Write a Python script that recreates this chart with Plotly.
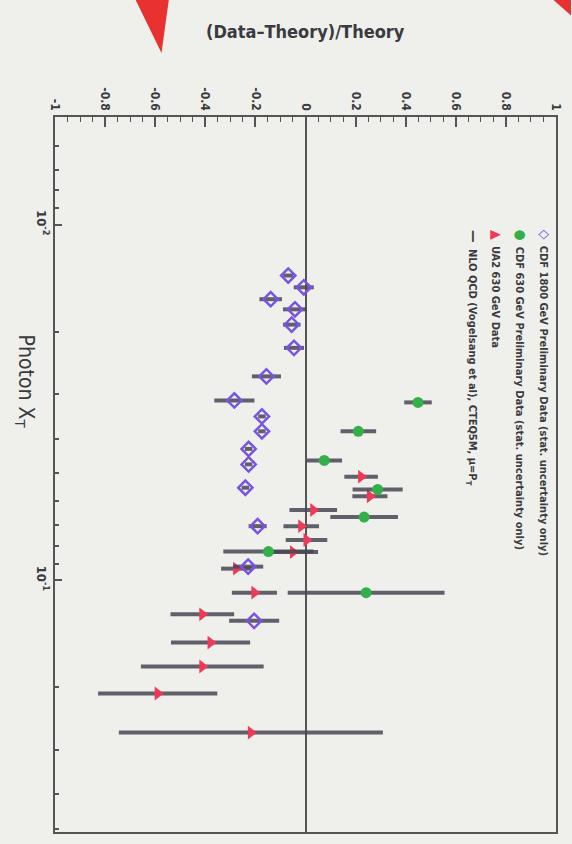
import numpy as np
import plotly.graph_objects as go

# ---------------- data ----------------
# CDF 1800 GeV (open diamonds)
cdf1800_xt = [0.0139, 0.0150, 0.0162, 0.0173, 0.0191, 0.0222, 0.0267, 0.0312,
              0.0346, 0.0381, 0.0427, 0.0472, 0.0549, 0.0704, 0.0915, 0.130]
cdf1800_r = [-0.069, -0.007, -0.139, -0.042, -0.055, -0.046, -0.156, -0.284,
             -0.174, -0.174, -0.227, -0.227, -0.240, -0.191, -0.229, -0.205]
cdf1800_e = [0.02, 0.04, 0.045, 0.048, 0.035, 0.04, 0.058, 0.08,
             0.015, 0.015, 0.015, 0.015, 0.015, 0.036, 0.06, 0.10]

# CDF 630 GeV (filled circles)
cdf630_xt = [0.0316, 0.0381, 0.0460, 0.0555, 0.0664, 0.0830, 0.1083]
cdf630_r = [0.449, 0.211, 0.075, 0.288, 0.234, -0.148, 0.242]
cdf630_e = [0.055, 0.071, 0.071, 0.10, 0.135, 0.18, 0.313]

# UA2 630 GeV (triangles)
ua2_xt = [0.0511, 0.0580, 0.0634, 0.0704, 0.0770, 0.0833, 0.0927,
          0.1083, 0.1246, 0.1496, 0.1747, 0.208, 0.268]
ua2_r = [0.222, 0.257, 0.031, -0.017, 0.004, -0.050, -0.277,
         -0.204, -0.412, -0.379, -0.412, -0.590, -0.218]
ua2_e = [0.067, 0.07, 0.095, 0.071, 0.083, 0.10, 0.06,
         0.09, 0.127, 0.158, 0.245, 0.238, 0.527]

x_ticks = [-1, -0.8, -0.6, -0.4, -0.2, 0, 0.2, 0.4, 0.6, 0.8, 1]
x_ticklabels = ["-1", "-0.8", "-0.6", "-0.4", "-0.2", "0", "0.2", "0.4", "0.6", "0.8", "1"]
y_ticks = [0.01, 0.1]
y_ticklabels = ["10<sup>-2</sup>", "10<sup>-1</sup>"]
y_minor = [m * 10.0 ** d for d in (-3, -2, -1) for m in range(2, 10)]

legend_labels = [
    "CDF 1800 GeV Preliminary Data (stat. uncertainty only)",
    "CDF 630 GeV Preliminary Data (stat. uncertainty only)",
    "UA2 630 GeV Data",
    "NLO QCD (Vogelsang et al), CTEQ5M, \u03bc=P<sub>T</sub>",
]

# ---------------- style ----------------
FONT = "DejaVu Sans Condensed, Liberation Sans Narrow, Open Sans, sans-serif"
TXT = "#3a3a40"
BAR = "rgba(70,70,85,0.85)"
PURPLE = "#7a52e4"
GREEN = "#34b04a"
RED = "#ee3a57"
BG = "#eff0eb"

fig = go.Figure()

def err(e):
    return dict(type="data", array=e, symmetric=True, color=BAR, thickness=4, width=0)

fig.add_trace(go.Scatter(
    x=ua2_r, y=ua2_xt, mode="markers", error_x=err(ua2_e),
    marker=dict(symbol="triangle-right", size=12, color=RED), showlegend=False))
fig.add_trace(go.Scatter(
    x=cdf630_r, y=cdf630_xt, mode="markers", error_x=err(cdf630_e),
    marker=dict(symbol="circle", size=11, color=GREEN), showlegend=False))
fig.add_trace(go.Scatter(
    x=cdf1800_r, y=cdf1800_xt, mode="markers", error_x=err(cdf1800_e),
    marker=dict(symbol="diamond-open", size=11, color=PURPLE,
                line=dict(width=2.5, color=PURPLE)), showlegend=False))

fig.update_layout(
    width=572, height=844,
    margin=dict(l=55, r=9, t=117, b=12),
    paper_bgcolor=BG, plot_bgcolor=BG,
    font=dict(family=FONT, color=TXT, size=11),
    showlegend=False,
    xaxis=dict(
        range=[-1, 1], side="top", tickvals=x_ticks, ticktext=x_ticklabels,
        tickangle=90, ticks="inside", ticklen=10, tickwidth=1.5, tickcolor="#555",
        minor=dict(dtick=0.05, tick0=0, ticks="inside", ticklen=5, tickcolor="#555", tickwidth=1),
        showgrid=False, zeroline=True, zerolinecolor="#555", zerolinewidth=2,
        showline=True, linecolor="#555", linewidth=2, mirror=True,
        tickfont=dict(size=12, family=FONT, color=TXT, weight="bold"),
    ),
    yaxis=dict(
        type="log", range=[np.log10(0.51), np.log10(0.00498)],
        tickvals=y_ticks, ticktext=y_ticklabels, tickangle=90,
        ticks="inside", ticklen=7, tickwidth=1.5, tickcolor="#555",
        minor=dict(tickvals=y_minor, ticks="inside", ticklen=4, tickcolor="#555", tickwidth=1.5),
        showgrid=False, zeroline=False,
        showline=True, linecolor="#555", linewidth=2, mirror=True,
        tickfont=dict(size=13, family=FONT, color=TXT, weight="bold"),
    ),
)

ann = []
ann.append(dict(text="<b>(Data\u2013Theory)/Theory</b>", xref="paper", yref="paper",
                x=0.5, y=1.12, xanchor="center", yanchor="middle", showarrow=False,
                font=dict(size=18, family=FONT, color=TXT)))
ann.append(dict(text="Photon X<sub>T</sub>", xref="paper", yref="paper",
                x=-0.058, y=0.63, xanchor="center", yanchor="middle", showarrow=False,
                textangle=90, font=dict(size=21, family=FONT, color=TXT)))

sym = [("\u25c7", PURPLE), ("\u25cf", GREEN), ("\u25b2", RED), ("\u2014", "#444")]
leg_x = [0.978, 0.930, 0.882, 0.834]
for (s, c), lbl, lx in zip(sym, legend_labels, leg_x):
    ann.append(dict(
        text=f"<span style='color:{c};font-size:14px'><b>{s}</b></span>  <b>{lbl}</b>",
        xref="paper", yref="paper", x=lx, y=0.845, xanchor="center", yanchor="top",
        showarrow=False, textangle=90, font=dict(size=11, family=FONT, color=TXT)))
fig.update_layout(annotations=ann)

# red photo artefacts at the top edge
fig.add_shape(type="path", xref="paper", yref="paper",
              path="M 0.1496 1.18 L 0.2303 1.18 L 0.2126 1.0895 Z",
              fillcolor="#e8322f", line=dict(width=0))
fig.add_shape(type="path", xref="paper", yref="paper",
              path="M 0.9685 1.18 L 1.03 1.18 L 1.03 1.142 Z",
              fillcolor="#e8322f", line=dict(width=0))

fig.write_html("out.html")
